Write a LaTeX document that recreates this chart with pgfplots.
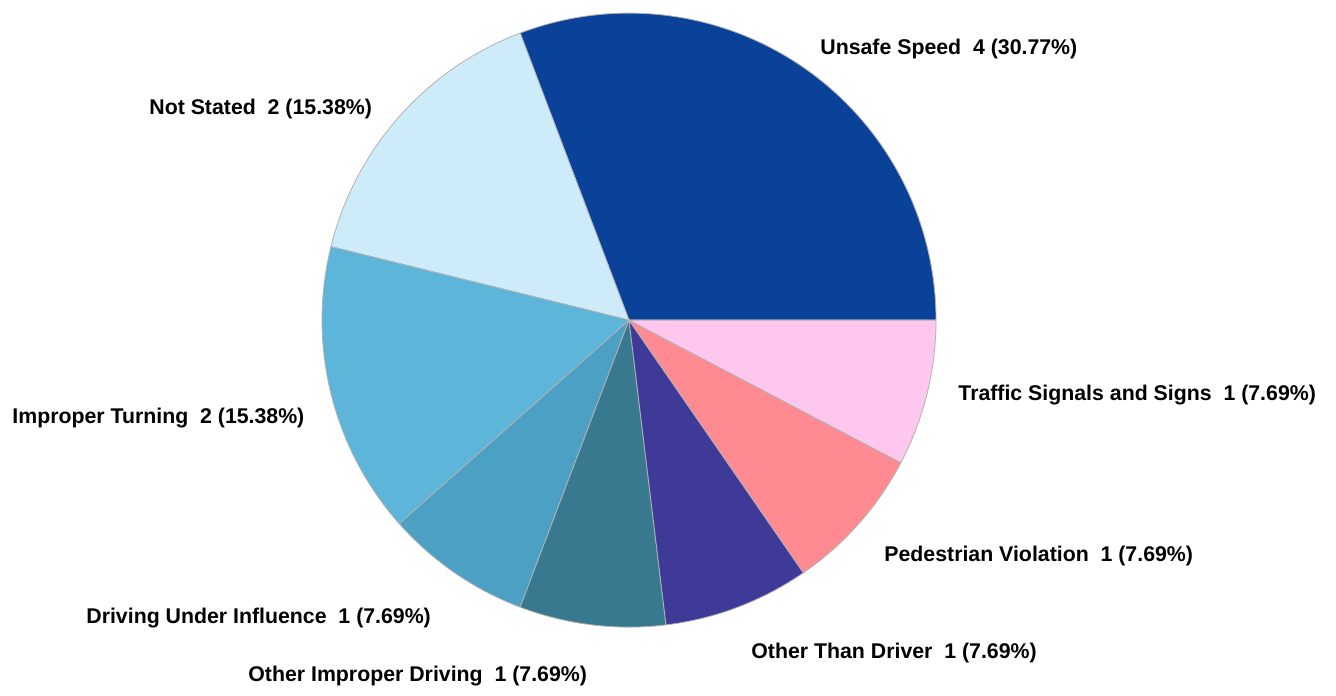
\documentclass[border=0pt]{standalone}
\usepackage{pgfplots}
\pgfplotsset{compat=1.18}
\usepackage{pgfplotstable}
\usepackage{fontspec}
\setmainfont{Liberation Sans}
\definecolor{cA}{HTML}{0B4299}
\definecolor{cB}{HTML}{CDEBF8}
\definecolor{cC}{HTML}{5DB5DA}
\definecolor{cD}{HTML}{4BA0C3}
\definecolor{cE}{HTML}{39798F}
\definecolor{cF}{HTML}{3F3A98}
\definecolor{cG}{HTML}{FF8A92}
\definecolor{cH}{HTML}{FFC6EE}
% counts per category (total 13)
\def\vA{4}\def\vB{2}\def\vC{2}\def\vD{1}\def\vE{1}\def\vF{1}\def\vG{1}\def\vH{1}
\pgfmathsetmacro{\tot}{\vA+\vB+\vC+\vD+\vE+\vF+\vG+\vH}
\pgfmathsetmacro{\aA}{0}
\pgfmathsetmacro{\aB}{\aA+360*\vA/\tot}
\pgfmathsetmacro{\aC}{\aB+360*\vB/\tot}
\pgfmathsetmacro{\aD}{\aC+360*\vC/\tot}
\pgfmathsetmacro{\aE}{\aD+360*\vD/\tot}
\pgfmathsetmacro{\aF}{\aE+360*\vE/\tot}
\pgfmathsetmacro{\aG}{\aF+360*\vF/\tot}
\pgfmathsetmacro{\aH}{\aG+360*\vG/\tot}
\pgfmathsetmacro{\aI}{360}
\def\cx{629}\def\cy{-315}\def\R{307}
\newcommand{\slice}[3]{%
  \fill[#3,draw=gray!60,line width=0.4pt] (axis cs:\cx,\cy) -- (axis cs:{\cx+\R*cos(#1)},{\cy+\R*sin(#1)}) arc[start angle=#1,end angle=#2,radius=153.5pt] -- cycle;}
\begin{document}
\begin{tikzpicture}
\begin{axis}[scale only axis, width=668pt, height=345pt,
  xmin=0, xmax=1336, ymin=-690, ymax=0, hide axis, clip=false]
\path (axis cs:0,0) rectangle (axis cs:1336,-690);
\slice{\aA}{\aB}{cA}
\slice{\aB}{\aC}{cB}
\slice{\aC}{\aD}{cC}
\slice{\aD}{\aE}{cD}
\slice{\aE}{\aF}{cE}
\slice{\aF}{\aG}{cF}
\slice{\aG}{\aH}{cG}
\slice{\aH}{\aI}{cH}
\tikzset{lab/.style={anchor=west,inner sep=0pt,font=\fontsize{10.65pt}{12pt}\selectfont\bfseries}}
\node[lab] at (axis cs:820,-44) {Unsafe Speed\ \ 4 (30.77\%)};
\node[lab] at (axis cs:149,-104) {Not Stated\ \ 2 (15.38\%)};
\node[lab] at (axis cs:12,-413) {Improper Turning\ \ 2 (15.38\%)};
\node[lab] at (axis cs:958,-390) {Traffic Signals and Signs\ \ 1 (7.69\%)};
\node[lab] at (axis cs:884,-551) {Pedestrian Violation\ \ 1 (7.69\%)};
\node[lab] at (axis cs:86,-613) {Driving Under Influence\ \ 1 (7.69\%)};
\node[lab] at (axis cs:248,-671) {Other Improper Driving\ \ 1 (7.69\%)};
\node[lab] at (axis cs:751,-648) {Other Than Driver\ \ 1 (7.69\%)};
\end{axis}
\end{tikzpicture}
\end{document}
